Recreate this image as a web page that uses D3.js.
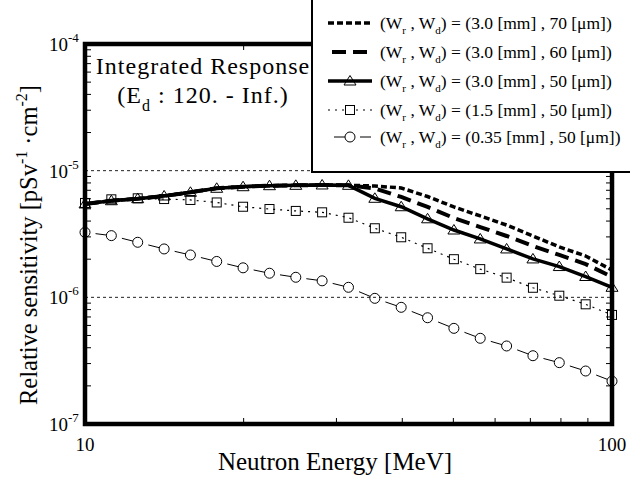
<!DOCTYPE html>
<html>
<head>
<meta charset="utf-8">
<script src="https://cdn.jsdelivr.net/npm/d3@7"></script>
<style>
  body { margin: 0; background: #fff; }
  svg { display: block; font-family: "Liberation Serif", "DejaVu Serif", serif; }
</style>
</head>
<body>
<svg width="639" height="478"></svg>
<script>
/*------------------------
  ------ VARIABLES -------
  ------------------------*/

// energies [MeV], 20 points per decade
var energies = [10, 11.22, 12.59, 14.13, 15.85, 17.78, 19.95, 22.39, 25.12, 28.18, 31.62,
                35.48, 39.81, 44.67, 50.12, 56.23, 63.10, 70.79, 79.43, 89.13, 100];

// relative sensitivity [pSv^-1 cm^-2], unit 1e-6
var w3_70 = [5.46, 5.79, 6.01, 6.31, 6.75, 7.26, 7.47, 7.61, 7.66, 7.71, 7.66,
             7.57, 7.30, 6.25, 5.17, 4.39, 3.72, 3.05, 2.50, 2.12, 1.64];
var w3_60 = [5.46, 5.79, 6.01, 6.31, 6.75, 7.26, 7.47, 7.61, 7.66, 7.71, 7.66,
             7.23, 6.20, 5.17, 4.23, 3.59, 3.05, 2.54, 2.16, 1.83, 1.45];
var w3_50 = [5.46, 5.79, 6.01, 6.31, 6.75, 7.26, 7.47, 7.61, 7.66, 7.71, 7.66,
             6.05, 5.19, 4.17, 3.40, 2.89, 2.41, 2.01, 1.75, 1.46, 1.20];
var w15_50 = [5.56, 5.94, 6.05, 5.97, 5.87, 5.61, 5.19, 4.98, 4.81, 4.69, 4.25,
              3.51, 2.98, 2.44, 2.00, 1.67, 1.43, 1.19, 1.03, 0.881, 0.726];
var w035_50 = [3.26, 3.07, 2.72, 2.41, 2.16, 1.92, 1.71, 1.55, 1.44, 1.35, 1.20,
               0.982, 0.834, 0.690, 0.569, 0.475, 0.413, 0.346, 0.305, 0.262, 0.218];

var legend_wr = ["3.0", "3.0", "3.0", "1.5", "0.35"];
var legend_wd = ["70", "60", "50", "50", "50"];

var y_ticks = [1e-7, 1e-6, 1e-5, 1e-4];
var y_exps = ["-7", "-6", "-5", "-4"];
var x_ticks = [10, 100];
var grid_vals = [1e-6, 1e-5];

// display
var plot = {left: 85, right: 612, top: 44, bot: 424};
var leg = {left: 312, right: 630, bot: 172, row_y: [23, 52, 81, 110, 137]};

var x = d3.scaleLog().domain([10, 100]).range([plot.left, plot.right]);
var y = d3.scaleLog().domain([1e-7, 1e-4]).range([plot.bot, plot.top]);

var svg = d3.select("svg");

function pts(vals) {
    return vals.map(function(v, i) { return [energies[i], v * 1e-6]; });
}

var line = d3.line()
    .x(function(d) { return x(d[0]); })
    .y(function(d) { return y(d[1]); });

var tri_path = "M0,-5.5L6,4L-6,4Z";

/*---------------------
  ----- GRID/AXES -----
  ---------------------*/

function display_grid() {
    svg.selectAll(".grid")
        .data(grid_vals)
        .enter()
        .append("line")
        .attr("x1", plot.left).attr("x2", plot.right)
        .attr("y1", y).attr("y2", y)
        .attr("stroke", "#222")
        .attr("stroke-width", 1)
        .attr("stroke-dasharray", "3,3");

    // minor ticks, inward
    var y_minor = [];
    [1e-7, 1e-6, 1e-5].forEach(function(b) {
        for (var m = 2; m <= 9; m++) y_minor.push(b * m);
    });
    var x_minor = [20, 30, 40, 50, 60, 70, 80, 90];

    var g = svg.append("g").attr("stroke", "#000").attr("stroke-width", 1);
    y_minor.forEach(function(v) {
        g.append("line").attr("x1", plot.left).attr("x2", plot.left + 6)
            .attr("y1", y(v)).attr("y2", y(v));
        g.append("line").attr("x1", plot.right).attr("x2", plot.right - 6)
            .attr("y1", y(v)).attr("y2", y(v));
    });
    x_minor.forEach(function(v) {
        g.append("line").attr("x1", x(v)).attr("x2", x(v))
            .attr("y1", plot.bot).attr("y2", plot.bot - 6);
        g.append("line").attr("x1", x(v)).attr("x2", x(v))
            .attr("y1", plot.top).attr("y2", plot.top + 6);
    });

    svg.append("rect")
        .attr("x", plot.left).attr("y", plot.top)
        .attr("width", plot.right - plot.left)
        .attr("height", plot.bot - plot.top)
        .attr("fill", "none")
        .attr("stroke", "#000")
        .attr("stroke-width", 4.5);
}

function display_labels() {
    var yl = svg.selectAll(".ylab")
        .data(y_ticks)
        .enter()
        .append("text")
        .attr("x", 49)
        .attr("y", function(d) { return y(d) + 7; })
        .attr("font-size", 19);
    yl.append("tspan").text("10");
    yl.append("tspan")
        .attr("dy", -9)
        .attr("font-size", 13)
        .text(function(d, i) { return y_exps[i]; });

    svg.selectAll(".xlab")
        .data(x_ticks)
        .enter()
        .append("text")
        .attr("x", x)
        .attr("y", 451)
        .attr("text-anchor", "middle")
        .attr("font-size", 19)
        .text(function(d) { return d; });

    svg.append("text")
        .attr("x", 335).attr("y", 470)
        .attr("text-anchor", "middle")
        .attr("font-size", 25)
        .text("Neutron Energy [MeV]");

    var t = svg.append("text")
        .attr("transform", "translate(37,245) rotate(-90)")
        .attr("text-anchor", "middle")
        .attr("font-size", 24.5);
    t.append("tspan").text("Relative sensitivity [pSv");
    t.append("tspan").attr("dy", -10).attr("font-size", 16).text("-1");
    t.append("tspan").attr("dy", 10).text(" \u00b7cm");
    t.append("tspan").attr("dy", -10).attr("font-size", 16).text("-2");
    t.append("tspan").attr("dy", 10).text("]");

    svg.append("text")
        .attr("x", 203).attr("y", 74)
        .attr("text-anchor", "middle")
        .attr("font-size", 24)
        .attr("letter-spacing", 1)
        .text("Integrated Response");
    var s = svg.append("text")
        .attr("x", 203).attr("y", 103)
        .attr("text-anchor", "middle")
        .attr("font-size", 24)
        .attr("letter-spacing", 1);
    s.append("tspan").text("(E");
    s.append("tspan").attr("dy", 8).attr("font-size", 16).text("d");
    s.append("tspan").attr("dy", -8).text(" : 120. - Inf.)");
}

/*---------------------
  -- DISPLAY SERIES ---
  ---------------------*/

function display_series() {
    svg.append("path").datum(pts(w3_70))
        .attr("d", line).attr("fill", "none")
        .attr("stroke", "#000").attr("stroke-width", 3.5)
        .attr("stroke-dasharray", "6,3");
    svg.append("path").datum(pts(w3_60))
        .attr("d", line).attr("fill", "none")
        .attr("stroke", "#000").attr("stroke-width", 4)
        .attr("stroke-dasharray", "14,7");
    svg.append("path").datum(pts(w3_50))
        .attr("d", line).attr("fill", "none")
        .attr("stroke", "#000").attr("stroke-width", 3.5);
    svg.append("path").datum(pts(w15_50))
        .attr("d", line).attr("fill", "none")
        .attr("stroke", "#000").attr("stroke-width", 1.2)
        .attr("stroke-dasharray", "2,5");

    // circles: short dash just before each marker
    var c = pts(w035_50);
    var segs = [];
    for (var i = 0; i < c.length - 1; i++) {
        var x0 = x(c[i][0]), y0 = y(c[i][1]), x1 = x(c[i + 1][0]), y1 = y(c[i + 1][1]);
        segs.push({x1: x0 + (x1 - x0) * 0.4, y1: y0 + (y1 - y0) * 0.4,
                   x2: x0 + (x1 - x0) * 0.82, y2: y0 + (y1 - y0) * 0.82});
    }
    svg.selectAll(".cseg").data(segs).enter().append("line")
        .attr("x1", function(d) { return d.x1; }).attr("y1", function(d) { return d.y1; })
        .attr("x2", function(d) { return d.x2; }).attr("y2", function(d) { return d.y2; })
        .attr("stroke", "#000").attr("stroke-width", 1);

    svg.selectAll(".tri").data(pts(w3_50)).enter().append("path")
        .attr("d", tri_path)
        .attr("transform", function(d) { return "translate(" + x(d[0]) + "," + y(d[1]) + ")"; })
        .attr("fill", "none").attr("stroke", "#000").attr("stroke-width", 1);
    svg.selectAll(".sq").data(pts(w15_50)).enter().append("rect")
        .attr("x", function(d) { return x(d[0]) - 4.5; })
        .attr("y", function(d) { return y(d[1]) - 4.5; })
        .attr("width", 9).attr("height", 9)
        .attr("fill", "none").attr("stroke", "#000").attr("stroke-width", 1);
    svg.selectAll(".circ").data(c).enter().append("circle")
        .attr("cx", function(d) { return x(d[0]); })
        .attr("cy", function(d) { return y(d[1]); })
        .attr("r", 5)
        .attr("fill", "none").attr("stroke", "#000").attr("stroke-width", 1);
}

/*---------------------
  ------ LEGEND -------
  ---------------------*/

function display_legend() {
    svg.append("rect")
        .attr("x", leg.left).attr("y", -5)
        .attr("width", leg.right - leg.left).attr("height", leg.bot + 5)
        .attr("fill", "#fff");
    svg.append("path")
        .attr("d", "M" + leg.left + ",0V" + leg.bot + "H" + leg.right)
        .attr("fill", "none").attr("stroke", "#000").attr("stroke-width", 2);

    var ry = leg.row_y;
    var lx0 = 328, lx1 = 372, mx = 350;
    svg.append("line").attr("x1", lx0).attr("x2", lx1).attr("y1", ry[0]).attr("y2", ry[0])
        .attr("stroke", "#000").attr("stroke-width", 3.5).attr("stroke-dasharray", "6,3");
    svg.append("line").attr("x1", lx0 + 4).attr("x2", lx1).attr("y1", ry[1]).attr("y2", ry[1])
        .attr("stroke", "#000").attr("stroke-width", 4).attr("stroke-dasharray", "14,7");
    svg.append("line").attr("x1", lx0).attr("x2", lx1).attr("y1", ry[2]).attr("y2", ry[2])
        .attr("stroke", "#000").attr("stroke-width", 3.5);
    svg.append("path").attr("d", tri_path)
        .attr("transform", "translate(" + mx + "," + ry[2] + ")")
        .attr("fill", "none").attr("stroke", "#000").attr("stroke-width", 1);
    svg.append("line").attr("x1", lx0).attr("x2", lx1).attr("y1", ry[3]).attr("y2", ry[3])
        .attr("stroke", "#000").attr("stroke-width", 1.2).attr("stroke-dasharray", "2,5");
    svg.append("rect").attr("x", mx - 4.5).attr("y", ry[3] - 4.5)
        .attr("width", 9).attr("height", 9)
        .attr("fill", "#fff").attr("stroke", "#000").attr("stroke-width", 1);
    svg.append("line").attr("x1", 334).attr("x2", 345).attr("y1", ry[4]).attr("y2", ry[4])
        .attr("stroke", "#000").attr("stroke-width", 1);
    svg.append("line").attr("x1", 360).attr("x2", 371).attr("y1", ry[4]).attr("y2", ry[4])
        .attr("stroke", "#000").attr("stroke-width", 1);
    svg.append("circle").attr("cx", mx).attr("cy", ry[4]).attr("r", 5)
        .attr("fill", "none").attr("stroke", "#000").attr("stroke-width", 1);

    var t = svg.selectAll(".legtxt")
        .data(legend_wr)
        .enter()
        .append("text")
        .attr("x", 380)
        .attr("y", function(d, i) { return ry[i] + 6; })
        .attr("font-size", 17.5);
    t.append("tspan").text("(W");
    t.append("tspan").attr("dy", 5).attr("font-size", 11).text("r");
    t.append("tspan").attr("dy", -5).text(" , W");
    t.append("tspan").attr("dy", 5).attr("font-size", 11).text("d");
    t.append("tspan").attr("dy", -5)
        .text(function(d, i) { return ") = (" + d + " [mm] , " + legend_wd[i] + " [\u03bcm])"; });
}

/*------------------
  ------ RUN -------
  ------------------*/

display_grid();
display_series();
display_legend();
display_labels();
</script>
</body>
</html>
